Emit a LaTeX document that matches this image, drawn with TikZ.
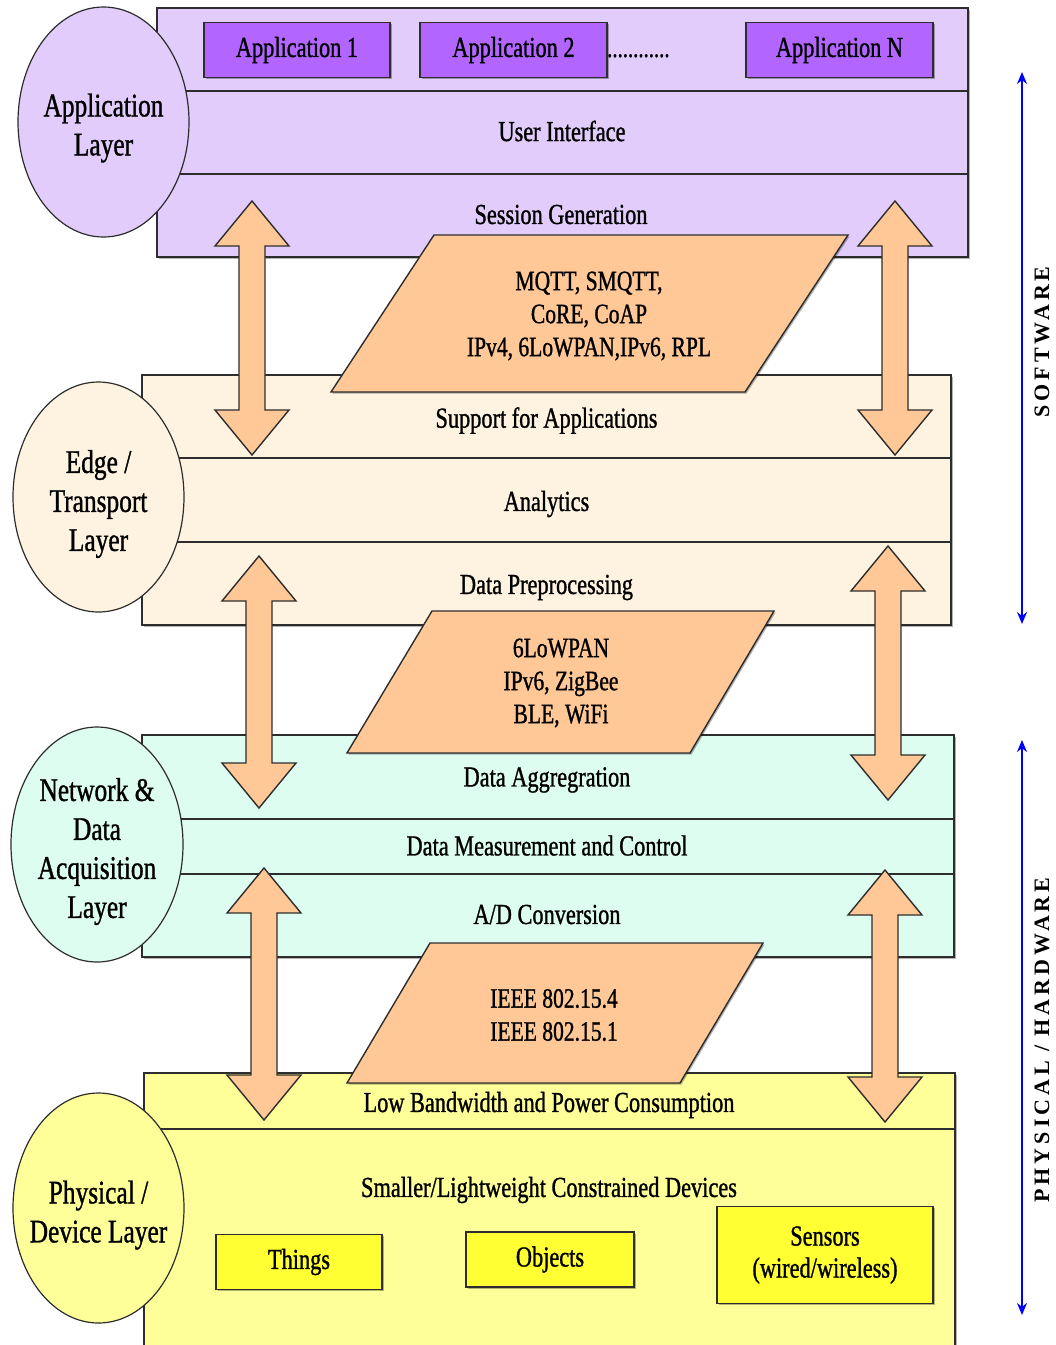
\documentclass[tikz,border=0pt]{standalone}
\usepackage{fontspec}
\setmainfont{Liberation Serif}[FakeStretch=0.77,FakeBold=1]
\newfontfamily\sidefont{Liberation Serif}[LetterSpace=18]
\usetikzlibrary{shapes.geometric,shadows,arrows.meta}

\definecolor{appband}{RGB}{225,204,251}
\definecolor{appbox}{RGB}{178,102,255}
\definecolor{edgeband}{RGB}{254,243,224}
\definecolor{netband}{RGB}{221,253,240}
\definecolor{phyband}{RGB}{255,255,153}
\definecolor{phybox}{RGB}{255,255,51}
\definecolor{proto}{RGB}{255,200,150}
\definecolor{rule}{RGB}{45,45,45}

\tikzset{
  softshadow/.style={drop shadow={shadow xshift=1.5pt,shadow yshift=-1.5pt,fill=black,opacity=0.3}},
  band/.style={rectangle,draw=rule,line width=1.4pt,fill=#1,inner sep=0pt,softshadow},
  bandtext/.style={inner sep=0pt,font=\fontsize{29}{33}\selectfont},
  itembox/.style={rectangle,draw=rule,line width=1.4pt,fill=#1,inner sep=0pt,
    align=center,font=\fontsize{29}{32}\selectfont,softshadow},
  layerlabel/.style={ellipse,draw=rule,line width=1.2pt,fill=#1,inner sep=0pt},
  layertext/.style={inner sep=0pt,align=center,font=\fontsize{33}{39}\selectfont},
  protoshape/.style={draw=rule,line width=1.4pt,fill=proto,softshadow},
  prototext/.style={align=center,inner sep=0pt,font=\fontsize{28}{33}\selectfont},
  fat/.style={draw=rule,line width=1.4pt,fill=proto,line join=miter},
  sidearrow/.style={draw=blue,line width=2pt,{Stealth[length=12pt,width=10pt]}-{Stealth[length=12pt,width=10pt]}},
  sidelabel/.style={rotate=90,inner sep=0pt,font=\sidefont\bfseries\fontsize{22}{26}\selectfont}
}

% block double arrow: centre x, top tip y, bottom tip y
\newcommand\fatarrow[3]{%
  \draw[fat] (#1,#2) -- (#1+37,#2+45) -- (#1+13,#2+45) -- (#1+13,#3-45)
    -- (#1+37,#3-45) -- (#1,#3) -- (#1-37,#3-45) -- (#1-13,#3-45)
    -- (#1-13,#2+45) -- (#1-37,#2+45) -- cycle;}

\begin{document}
\begin{tikzpicture}[x=1pt,y=-1pt]
\useasboundingbox (0,0) rectangle (1056,1345);

% ---------------- Application layer
\node[band=appband,minimum width=811pt,minimum height=83pt] (ab1) at (562.5,49.5) {};
\node[band=appband,minimum width=811pt,minimum height=83pt] (ab2) at (562.5,132.5) {};
\node[band=appband,minimum width=811pt,minimum height=83pt] (ab3) at (562.5,215.5) {};
\node[bandtext] (ui) at (562,131) {User Interface};
\node[bandtext] (session) at (561,214.5) {Session Generation};
\node[itembox=appbox,minimum width=186pt,minimum height=55pt] (app1) at (297,50) {Application 1};
\node[itembox=appbox,minimum width=187pt,minimum height=55pt] (app2) at (513.5,50) {Application 2};
\node[itembox=appbox,minimum width=187pt,minimum height=55pt] (appn) at (839.5,50) {Application N};
\node[anchor=base west,inner sep=0pt,font=\fontsize{27}{30}\selectfont] (dots) at (607,57) {............};

% ---------------- Edge / transport layer
\node[band=edgeband,minimum width=809pt,minimum height=83pt] (eb1) at (546.5,416.5) {};
\node[band=edgeband,minimum width=809pt,minimum height=84pt] (eb2) at (546.5,500) {};
\node[band=edgeband,minimum width=809pt,minimum height=83pt] (eb3) at (546.5,583.5) {};
\node[bandtext] (support) at (546.5,420.5) {Support for Applications};
\node[bandtext] (analytics) at (546.5,504) {Analytics};
\node[bandtext] (prep) at (546.5,587.5) {Data Preprocessing};

% ---------------- Network & data acquisition layer
\node[band=netband,minimum width=812pt,minimum height=84pt] (nb1) at (548,777) {};
\node[band=netband,minimum width=812pt,minimum height=55pt] (nb2) at (548,846.5) {};
\node[band=netband,minimum width=812pt,minimum height=83pt] (nb3) at (548,915.5) {};
\node[bandtext] (aggr) at (547,780) {Data Aggregration};
\node[bandtext] (measure) at (547,845.5) {Data Measurement and Control};
\node[bandtext] (adconv) at (547,914.5) {A/D Conversion};

% ---------------- Physical / device layer
\node[band=phyband,minimum width=811pt,minimum height=56pt] (pb1) at (549.5,1101) {};
\node[band=phyband,minimum width=811pt,minimum height=231pt] (pb2) at (549.5,1244.5) {};
\node[bandtext] (lowbw) at (549,1105) {Low Bandwidth and Power Consumption};
\node[bandtext] (devs) at (549,1190) {Smaller/Lightweight Constrained Devices};
\node[itembox=phybox,minimum width=166pt,minimum height=55pt] (things) at (299,1262) {Things};
\node[itembox=phybox,minimum width=168pt,minimum height=55pt] (objects) at (550,1259.5) {Objects};
\node[itembox=phybox,minimum width=216pt,minimum height=97pt] (sensors) at (825,1255) {Sensors\\(wired/wireless)};

% ---------------- protocol parallelograms
\draw[protoshape] (434,235) -- (848,235) -- (745,392) -- (331,392) -- cycle;
\node[prototext] (proto1) at (589,316) {MQTT, SMQTT,\\CoRE, CoAP\\IPv4, 6LoWPAN,IPv6, RPL};
\draw[protoshape] (432,611) -- (774,611) -- (690,753) -- (347,753) -- cycle;
\node[prototext] (proto2) at (561,683) {6LoWPAN\\IPv6, ZigBee\\BLE, WiFi};
\draw[protoshape] (430,943) -- (763,943) -- (680,1083) -- (347,1083) -- cycle;
\node[prototext] (proto3) at (554,1015) {IEEE 802.15.4\\IEEE 802.15.1};

% ---------------- vertical data-flow arrows
\fatarrow{252}{201}{455}
\fatarrow{895}{201}{455}
\fatarrow{259}{556}{808}
\fatarrow{888}{546}{800}
\fatarrow{264}{868}{1120}
\fatarrow{885}{870}{1122}

% ---------------- layer labels
\node[layerlabel=appband,minimum width=171pt,minimum height=230pt] (lapp) at (103.5,122) {};
\node[layertext] at ([yshift=-6pt]lapp.center) {Application\\Layer};
\node[layerlabel=edgeband,minimum width=171pt,minimum height=230pt] (ledge) at (98.5,497) {};
\node[layertext] at ([yshift=-7pt]ledge.center) {Edge /\\Transport\\Layer};
\node[layerlabel=netband,minimum width=172pt,minimum height=235pt] (lnet) at (97,844.5) {};
\node[layertext] at ([yshift=-7pt]lnet.center) {Network \&\\Data\\Acquisition\\Layer};
\node[layerlabel=phyband,minimum width=171pt,minimum height=230pt] (lphy) at (98.5,1208) {};
\node[layertext] at ([yshift=-7pt]lphy.center) {Physical /\\Device Layer};

% ---------------- software / hardware span
\coordinate (swtop) at (1022,72);
\coordinate (swbot) at (1022,624);
\coordinate (hwtop) at (1022,740);
\coordinate (hwbot) at (1022,1315);
\draw[sidearrow] (swtop) -- (swbot);
\draw[sidearrow] (hwtop) -- (hwbot);
\node[sidelabel] (sw) at (1042,342) {SOFTWARE};
\node[sidelabel] (hw) at (1042,1040) {PHYSICAL / HARDWARE};
\end{tikzpicture}
\end{document}
